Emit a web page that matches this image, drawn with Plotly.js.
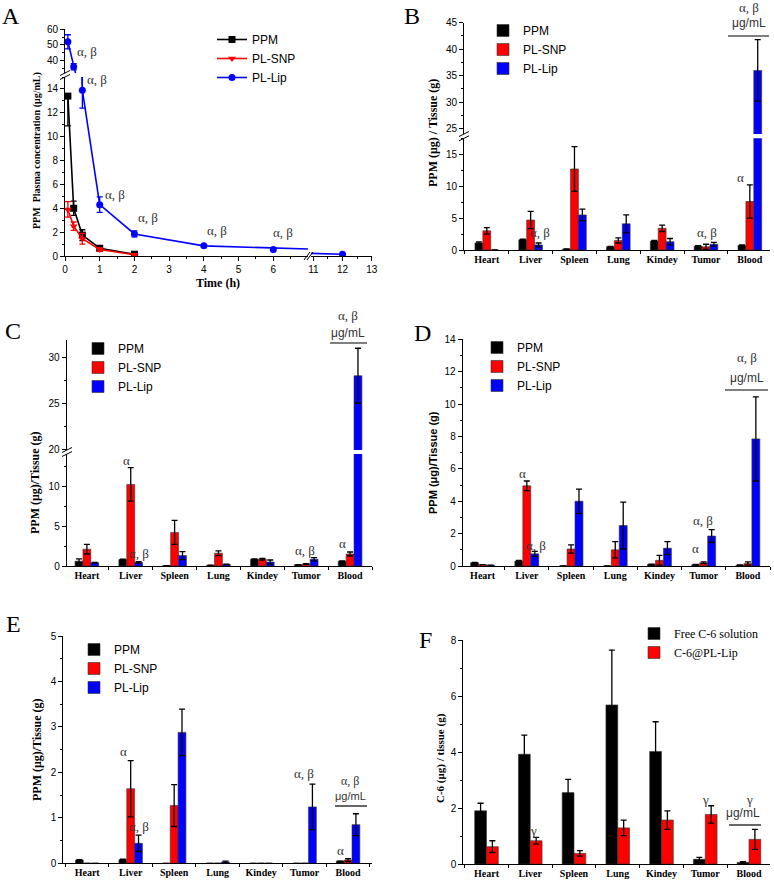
<!DOCTYPE html>
<html>
<head>
<meta charset="utf-8">
<script src="https://cdn.plot.ly/plotly-3.0.1.min.js"></script>
<style>
  body { margin: 0; background: #fff; }
  #fig { width: 774px; height: 883px; }
</style>
</head>
<body>
<div id="fig"></div>
<script>
// ---- data ----
const organs = ["Heart", "Liver", "Spleen", "Lung", "Kindey", "Tumor", "Blood"];
const formNames = ["PPM", "PL-SNP", "PL-Lip"];
const formColors = ["#000000", "#ff0000", "#0000ff"];

// A: plasma concentration vs time
const timeH = [0.083, 0.25, 0.5, 1, 2, 4, 6, 12];
const ppmPlasma = [13.4, 4.0, 1.75, 0.65, 0.15];
const ppmPlasmaUp = [0, 0.6, 0.45, 0.12, 0.08];
const ppmPlasmaDown = [2.5, 0.6, 0.45, 0.12, 0.08];
const snpPlasma = [3.9, 2.5, 1.45, 0.55, 0.1];
const snpPlasmaErr = [0.65, 0.35, 0.45, 0.15, 0.05];
const lipPlasma = [52, 36, 13.9, 4.3, 1.85, 0.85, 0.55, 0.15];
const lipPlasmaErr = [4.5, 2, 1.5, 0.65, 0.25, 0.08, 0.1, 0.05];

// B
const ppmB = [1.1, 1.6, 0.15, 0.5, 1.4, 0.6, 0.7];
const ppmBErr = [0.15, 0.1, 0.03, 0.08, 0.1, 0.1, 0.08];
const snpB = [3.0, 4.7, 12.7, 1.5, 3.4, 0.5, 7.6];
const snpBErr = [0.5, 1.35, 3.5, 0.4, 0.5, 0.4, 2.6];
const lipB = [0, 0.8, 5.5, 4.1, 1.3, 0.9, 36];
const lipBErr = [0, 0.3, 0.9, 1.4, 0.5, 0.3, 5.8];

// C
const ppmC = [0.6, 0.8, 0.05, 0.1, 0.85, 0.15, 0.6];
const ppmCErr = [0.3, 0.05, 0, 0, 0.05, 0.02, 0.05];
const snpC = [2.1, 10.2, 4.2, 1.6, 0.85, 0.25, 1.5];
const snpCErr = [0.6, 2.1, 1.5, 0.3, 0.1, 0.05, 0.25];
const lipC = [0.4, 0.45, 1.3, 0.2, 0.5, 0.85, 28];
const lipCErr = [0.05, 0.1, 0.5, 0.02, 0.25, 0.2, 3];

// D
const ppmD = [0.2, 0.3, 0, 0, 0.1, 0.08, 0.05];
const ppmDErr = [0.03, 0.05, 0, 0, 0.02, 0.02, 0.02];
const snpD = [0.08, 4.95, 1.05, 1.0, 0.35, 0.2, 0.15];
const snpDErr = [0, 0.3, 0.25, 0.5, 0.3, 0.05, 0.1];
const lipD = [0.05, 0.75, 4.0, 2.5, 1.1, 1.85, 7.85];
const lipDErr = [0, 0.15, 0.75, 1.45, 0.4, 0.4, 2.6];

// E
const ppmE = [0.07, 0.08, 0, 0, 0, 0, 0.05];
const ppmEErr = [0.01, 0.01, 0, 0, 0, 0, 0];
const snpE = [0, 1.64, 1.27, 0, 0, 0, 0.07];
const snpEErr = [0, 0.62, 0.46, 0, 0, 0, 0.03];
const lipE = [0, 0.44, 2.88, 0.03, 0, 1.24, 0.85];
const lipEErr = [0, 0.18, 0.51, 0.02, 0, 0.5, 0.24];

// F
const c6Names = ["Free C-6 solution", "C-6@PL-Lip"];
const c6Colors = ["#000000", "#ff0000"];
const freeC6 = [1.9, 3.92, 2.55, 5.68, 4.02, 0.17, 0.06];
const freeC6Err = [0.27, 0.68, 0.47, 1.96, 1.06, 0.07, 0.02];
const lipC6 = [0.62, 0.83, 0.38, 1.29, 1.57, 1.77, 0.88];
const lipC6Err = [0.21, 0.12, 0.1, 0.28, 0.33, 0.31, 0.36];

// ---- helpers ----
const W = 774, H = 883;
const SERIF = "Liberation Serif, Times New Roman, serif";
const SANS = "Liberation Sans, Arial, sans-serif";
function px(x) { return x / W; }
function py(y) { return 1 - y / H; }
function nz(arr) { return arr.map(function (v) { return v > 0 ? v : null; }); }

function lineTrace(name, color, symbol, ys, up, down, xa, ya, legendId, show) {
  return {
    type: "scatter", mode: "lines+markers", name: name,
    x: timeH.slice(0, ys.length), y: ys,
    xaxis: xa, yaxis: ya, legend: legendId, showlegend: show,
    line: { color: color, width: 1.6 },
    marker: { color: color, symbol: symbol, size: 7 },
    error_y: { type: "data", symmetric: false, array: up, arrayminus: down,
      color: color, thickness: 1.3, width: 3 },
    hoverinfo: "skip",
  };
}

function barTraces(names, colors, series, errs, xa, ya, legendId, show) {
  return series.map(function (vals, i) {
    return {
      type: "bar", name: names[i], x: organs, y: vals,
      xaxis: xa, yaxis: ya, legend: legendId, showlegend: show,
      marker: { color: colors[i], line: { color: "#333", width: 0.6 } },
      error_y: { type: "data", array: nz(errs[i]), color: "#000", thickness: 1.3, width: 3 },
      hoverinfo: "skip",
    };
  });
}

const baseAxis = {
  showline: true, linecolor: "#000", linewidth: 1,
  ticks: "outside", ticklen: 4, tickwidth: 1, tickcolor: "#000",
  showgrid: false, zeroline: false, fixedrange: true,
  tickfont: { family: SANS, size: 10, color: "#000" },
};

function valAxis(top, bottom, range, tickvals, minorvals, anchor) {
  return Object.assign({}, baseAxis, {
    domain: [py(bottom), py(top)], range: range, anchor: anchor,
    tickmode: "array", tickvals: tickvals,
    minor: { tickmode: "array", tickvals: minorvals, ticks: "outside", ticklen: 2, tickcolor: "#000", showgrid: false },
  });
}
function seq(a, b, s) { const out = []; for (let v = a; v <= b + 1e-9; v += s) out.push(+v.toFixed(4)); return out; }

function catAxis(left, right, range, anchor) {
  return Object.assign({}, baseAxis, {
    type: "category", domain: [px(left), px(right)], range: range, anchor: anchor,
    tickson: "boundaries", ticklen: 3,
    tickfont: { family: SERIF, size: 10, weight: "bold", color: "#000" },
  });
}

// ---- traces ----
let traces = [];
// A (the PL-Lip curve is repeated on the upper segment and on the part after the x break)
traces.push(lineTrace("PPM", "#000000", "square", ppmPlasma, ppmPlasmaUp, ppmPlasmaDown, "x", "y", "legend", true));
traces.push(lineTrace("PL-SNP", "#ff0000", "triangle-down", snpPlasma, snpPlasmaErr, snpPlasmaErr, "x", "y", "legend", true));
traces.push(lineTrace("PL-Lip", "#0000ff", "circle", lipPlasma, lipPlasmaErr, lipPlasmaErr, "x", "y", "legend", true));
traces.push(lineTrace("PL-Lip", "#0000ff", "circle", lipPlasma, lipPlasmaErr, lipPlasmaErr, "x", "y2", "legend", false));
traces.push(lineTrace("PL-Lip", "#0000ff", "circle", lipPlasma, lipPlasmaErr, lipPlasmaErr, "x3", "y", "legend", false));
// B
traces = traces.concat(barTraces(formNames, formColors, [ppmB, snpB, lipB], [ppmBErr, snpBErr, lipBErr], "x4", "y3", "legend2", true));
traces = traces.concat(barTraces(formNames, formColors, [ppmB, snpB, lipB], [ppmBErr, snpBErr, lipBErr], "x4", "y4", "legend2", false));
// C
traces = traces.concat(barTraces(formNames, formColors, [ppmC, snpC, lipC], [ppmCErr, snpCErr, lipCErr], "x5", "y5", "legend3", true));
traces = traces.concat(barTraces(formNames, formColors, [ppmC, snpC, lipC], [ppmCErr, snpCErr, lipCErr], "x5", "y6", "legend3", false));
// D
traces = traces.concat(barTraces(formNames, formColors, [ppmD, snpD, lipD], [ppmDErr, snpDErr, lipDErr], "x6", "y7", "legend4", true));
// E
traces = traces.concat(barTraces(formNames, formColors, [ppmE, snpE, lipE], [ppmEErr, snpEErr, lipEErr], "x7", "y8", "legend5", true));
// F
traces = traces.concat(barTraces(c6Names, c6Colors, [freeC6, lipC6], [freeC6Err, lipC6Err], "x8", "y9", "legend6", true));

// ---- annotations ----
const ann = [];
function txt(t, x, y, size, family, extra) {
  ann.push(Object.assign({ text: t, x: px(x), y: py(y), xref: "paper", yref: "paper",
    showarrow: false, xanchor: "center", yanchor: "middle",
    font: { family: family || SERIF, size: size || 13, color: "#333" } }, extra || {}));
}
function ytitle(t, x, y, size, family) {
  txt(t, x, y, size, family, { textangle: -90, font: { family: family || SERIF, size: size, color: "#000", weight: "bold" } });
}
function panel(t, x, y) {
  txt(t, x, y, 24, SERIF, { font: { family: SERIF, size: 24, color: "#000" } });
}
panel("A", 11, 16); panel("B", 412, 16); panel("C", 13, 331);
panel("D", 422, 333); panel("E", 13, 624); panel("F", 425, 640);

ytitle("PPM  Plasma concentration (μg/mL)", 37, 151, 10, SERIF);
txt("Time (h)", 218, 283, 12, SERIF, { font: { family: SERIF, size: 12, color: "#000", weight: "bold" } });
ytitle("PPM (μg) / Tissue (g)", 433, 133, 12, SERIF);
ytitle("PPM (μg)/Tissue (g)", 35, 483, 12, SERIF);
ytitle("PPM (μg)/Tissue (g)", 433, 463, 11, SANS);
ytitle("PPM (μg)/Tissue (g)", 37, 750, 12, SERIF);
ytitle("C-6 (μg) / tissue (g)", 440, 758, 11, SERIF);

// A significance
[[87, 52], [97, 80], [115, 194], [148, 218], [217, 230], [283, 233]].forEach(function (p) { txt("α, β", p[0], p[1]); });
// B
txt("α, β", 540, 233); txt("α, β", 707, 233); txt("α", 740, 177);
txt("α, β", 749, 7); txt("μg/mL", 749, 23, 12, SANS);
// C
txt("α", 126, 460); txt("α, β", 139, 553); txt("α, β", 305, 550); txt("α", 342, 543);
txt("α, β", 348, 315); txt("μg/mL", 348, 333, 12, SANS);
// D
txt("α", 522, 473); txt("α, β", 536, 545); txt("α, β", 703, 520); txt("α", 695, 548);
txt("α, β", 747, 358); txt("μg/mL", 747, 378, 12, SANS);
// E
txt("α", 123, 751); txt("α, β", 139, 826); txt("α, β", 304, 773); txt("α", 340, 850);
txt("α, β", 350, 781, 12); txt("μg/mL", 350, 796, 11, SANS);
// F
txt("γ", 533, 830); txt("γ", 705, 799); txt("γ", 749, 799); txt("μg/mL", 743, 813, 12, SANS);

// ---- shapes (break marks, bracket lines) ----
const shapes = [];
function seg(x0, y0, x1, y1, w) {
  shapes.push({ type: "line", xref: "paper", yref: "paper",
    x0: px(x0), y0: py(y0), x1: px(x1), y1: py(y1), line: { color: "#000", width: w || 1 } });
}
seg(60, 75.5, 70, 70.5); seg(60, 79.5, 70, 74.5);           // A y break
seg(304, 260, 310, 252); seg(307, 260, 313, 252);           // A x break
seg(459, 136.5, 469, 131.5); seg(459, 140.8, 469, 135.8);   // B y break
seg(62, 452.5, 72, 447.5); seg(62, 456.5, 72, 451.5);       // C y break
seg(728, 36, 769, 36, 1.2); seg(330, 343, 367, 343, 1.2);
seg(725, 390, 768, 390, 1.2); seg(335, 806, 367, 806, 1.2); seg(729, 825, 761, 825, 1.2);

// ---- legends ----
function legendAt(x, y, family) {
  return { x: px(x), y: py(y), xanchor: "left", yanchor: "top", bgcolor: "rgba(0,0,0,0)",
    font: { family: family || SANS, size: 12, color: "#000" }, tracegroupgap: 0, itemclick: false };
}

const layout = {
  width: W, height: H, margin: { l: 0, r: 0, t: 0, b: 0 },
  paper_bgcolor: "#fff", plot_bgcolor: "rgba(0,0,0,0)",
  barmode: "group", bargap: 0.46, bargroupgap: 0,
  showlegend: true,
  legend: legendAt(212, 25), legend2: legendAt(483, 16), legend3: legendAt(78, 334),
  legend4: legendAt(477, 333), legend5: legendAt(74, 635), legend6: legendAt(634, 619, SERIF),
  // A
  xaxis: Object.assign({}, baseAxis, { domain: [px(65), px(308)], range: [0, 7], anchor: "y",
    tickmode: "array", tickvals: seq(0, 6, 1),
    minor: { tickmode: "array", tickvals: seq(0.5, 6.5, 1), ticks: "outside", ticklen: 2, tickcolor: "#000" } }),
  xaxis3: Object.assign({}, baseAxis, { domain: [px(311), px(372)], range: [10.92, 13.01], anchor: "y",
    tickmode: "array", tickvals: [11, 12, 13],
    minor: { tickmode: "array", tickvals: [11.5, 12.5], ticks: "outside", ticklen: 2, tickcolor: "#000" } }),
  yaxis: valAxis(77, 256, [0, 15], seq(0, 14, 2), seq(1, 15, 2), "x"),
  yaxis2: valAxis(29.3, 73, [32, 60], [40, 50, 60], [35, 45, 55], "x"),
  // B
  xaxis4: catAxis(464, 770, [-0.52, 6.46], "y3"),
  yaxis3: valAxis(138.3, 250, [0, 17.5], [0, 5, 10, 15], [2.5, 7.5, 12.5, 17.5], "x4"),
  yaxis4: valAxis(22.7, 134, [24, 45], [25, 30, 35, 40, 45], [27.5, 32.5, 37.5, 42.5], "x4"),
  // C
  xaxis5: catAxis(66.7, 372, [-0.46, 6.5], "y5"),
  yaxis5: valAxis(454, 566, [0, 14], [0, 5, 10], [2.5, 7.5, 12.5], "x5"),
  yaxis6: valAxis(340, 450, [19.9, 31.9], [20, 25, 30], [22.5, 27.5], "x5"),
  // D
  xaxis6: catAxis(462.7, 770, [-0.45, 6.5], "y7"),
  yaxis7: valAxis(339.3, 566, [0, 14], seq(0, 14, 2), seq(1, 13, 2), "x6"),
  // E
  xaxis7: catAxis(63.3, 372, [-0.55, 6.55], "y8"),
  yaxis8: valAxis(636, 863.3, [0, 5], seq(0, 5, 1), seq(0.5, 4.5, 1), "x7"),
  // F
  xaxis8: catAxis(463.3, 770, [-0.53, 6.48], "y9"),
  yaxis9: valAxis(640, 864, [0, 8], seq(0, 8, 2), seq(1, 7, 2), "x8"),
  annotations: ann,
  shapes: shapes,
};

Plotly.newPlot("fig", traces, layout, { displayModeBar: false, staticPlot: true });
</script>
</body>
</html>
